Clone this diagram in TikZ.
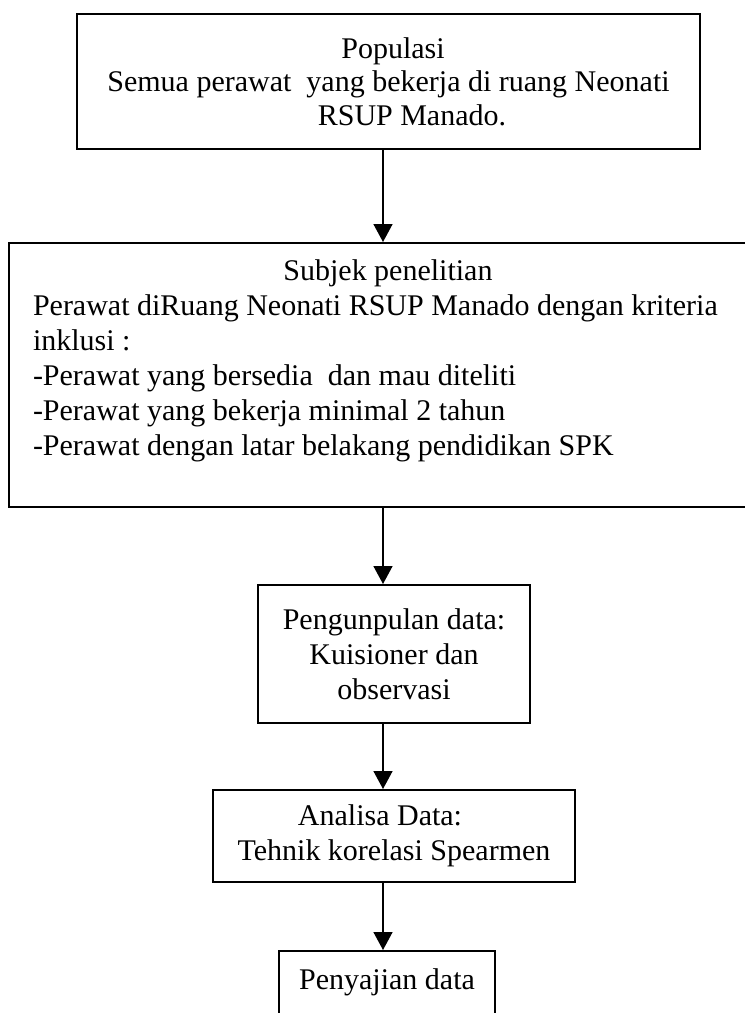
\documentclass[tikz,border=0pt]{standalone}
\usepackage{fontspec}
\setmainfont{Liberation Serif}
\usetikzlibrary{arrows.meta}

\begin{document}
\begin{tikzpicture}[> = {Triangle[width = 9.5pt, length = 9pt]}, x = 0.5pt, y = -0.5pt, font = \fontsize{15}{17.5}\selectfont,
	box/.style = {draw, line width = 1pt, inner sep = 0pt, align = center}]

	% Page (the scan is cut at the right and at the bottom)
	
		\path [use as bounding box, clip] (0, 0) rectangle (745, 1013);
		
	% Boxes
	
		\node (populasi) [box, minimum width = 311.5pt, minimum height = 67.5pt, font = \fontsize{15}{16.75}\selectfont] at (388.5, 81.5) {\hspace*{4.5pt}Populasi\\ Semua perawat~ yang bekerja di ruang Neonati\\ \hspace*{23.5pt}RSUP Manado.};
		\node (subjek) [box, align = flush left, text width = 355pt, inner xsep = 12pt, minimum height = 132pt] at (388, 375) {\makebox[\linewidth]{Subjek penelitian}\\ Perawat diRuang Neonati RSUP Manado dengan kriteria\\ inklusi :\\ -Perawat yang bersedia~ dan mau diteliti\\ -Perawat yang bekerja minimal 2 tahun\\ -Perawat dengan latar belakang pendidikan SPK\\ \mbox{}};
		\node (kumpul) [box, minimum width = 136pt, minimum height = 69pt] at (394, 654) {Pengunpulan data:\\ Kuisioner dan\\ observasi};
		\node (analisa) [box, minimum width = 181pt, minimum height = 46pt] at (394, 836) {Analisa Data:\hspace*{14pt}\\ Tehnik korelasi Spearmen};
		\node (sajian) [box, minimum width = 108pt, minimum height = 46pt] at (387, 997) {Penyajian data\\ \mbox{}};
		
	% Arrows
	
		\coordinate (spine) at (383, 0);
		
		\begin{scope}[->, line width = 0.8pt]
		
			\draw (populasi.south -| spine) -- (subjek.north -| spine);
			\draw (subjek.south -| spine) -- (kumpul.north -| spine);
			\draw (kumpul.south -| spine) -- (analisa.north -| spine);
			\draw (analisa.south -| spine) -- (sajian.north -| spine);
		
		\end{scope}

\end{tikzpicture}
\end{document}
